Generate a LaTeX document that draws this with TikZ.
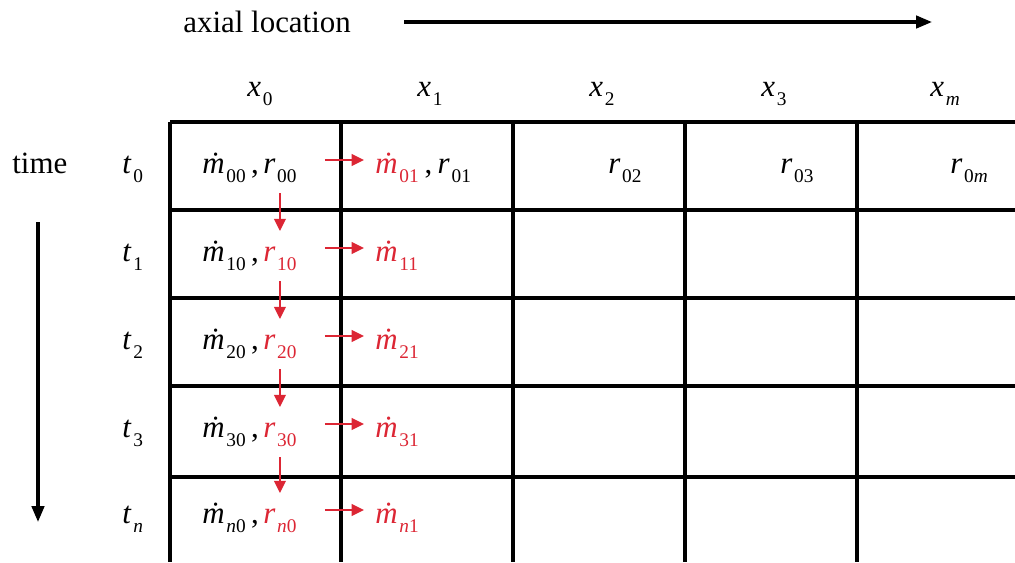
\documentclass[tikz,border=0pt]{standalone}
\usepackage{fontspec}
\setmainfont{Liberation Serif}
\usetikzlibrary{arrows.meta, positioning}

\definecolor{flowred}{RGB}{220,38,52}
\newcommand{\qsub}[2]{\textit{#1}\kern1pt\raisebox{-5.5pt}{\fontsize{11}{12}\selectfont #2}}
\newcommand{\mdot}{\textit{\.m}}

\begin{document}
\begin{tikzpicture}[x=0.02cm, y=-0.02cm,
    every node/.style={font=\fontsize{17.6}{20}\selectfont, inner sep=0pt},
    gridline/.style={line width=1.9pt},
    axisarrow/.style={line width=1.8pt, -{Triangle[length=9pt,width=7pt]}},
    flow/.style={flowred, line width=1.4pt, -{Triangle[length=7pt,width=6.5pt]}}]
            \useasboundingbox (0,0) rectangle (1015,562);

            % 1. Tengelyek: axial location, time
            \node[anchor=base west] (axial) at (183,32) {axial location};
            \coordinate (axial-end) at (932,22);
            \draw[axisarrow] ([shift={(53,-10)}]axial.base east) -- (axial-end);
            \node[anchor=base west] (time) at (12,173) {time};
            \coordinate (time-end) at (38,522);
            \draw[axisarrow] (38,222) -- (time-end);

            % 2. A rács kirajzolása
            \foreach \y in {122,210,298,386,477}
                \draw[gridline] (170,\y) -- (1015,\y);
            \foreach \x in {170,341,513,685,857}
                \draw[gridline] (\x,122) -- (\x,562);

            % 3. Oszlop- és sorfejlécek
            \foreach \c/\lab/\x in {0/0/247, 1/1/417, 2/2/589, 3/3/761, 4/\textit{m}/930}
                \node[anchor=base west] (x-\c) at (\x,96) {\qsub{x}{\lab}};
            \foreach \k/\lab/\b in {0/0/173, 1/1/261, 2/2/349, 3/3/437, 4/\textit{n}/523}
                \node[anchor=base west] (t-\k) at (122,\b) {\qsub{t}{\lab}};

            % 4. Mezők elhelyezése és elnevezése (m-sor-oszlop, r-sor-oszlop)
            \foreach \k/\lab/\b in {0/0/173, 1/1/261, 2/2/349, 3/3/437, 4/\textit{n}/523} {
                \ifnum\k=0 \def\rcol{black}\else\def\rcol{flowred}\fi
                \node[anchor=base west] (m-\k-0) at (202,\b) {\qsub{\mdot}{\lab0}\hspace{3pt},};
                \node[anchor=base west, text=\rcol] (r-\k-0) at (263,\b) {\qsub{r}{\lab0}};
                \node[anchor=base west, text=flowred] (m-\k-1) at (375,\b) {\qsub{\mdot}{\lab1}};
                \draw[flow] ([shift={(28,-13)}]r-\k-0.base east) -- ([shift={(-11,-13)}]m-\k-1.base west);
            }
            \node[base right=0pt of m-0-1] (r-0-1) {\hspace{3pt},\hspace{3pt}\qsub{r}{01}};
            \node[anchor=base west] (r-0-2) at (608,173) {\qsub{r}{02}};
            \node[anchor=base west] (r-0-3) at (780,173) {\qsub{r}{03}};
            \node[anchor=base west] (r-0-4) at (950,173) {\qsub{r}{0\textit{m}}};

            % 5. Lefelé mutató nyilak
            \foreach \k [evaluate=\k as \j using int(\k+1)] in {0,...,3}
                \draw[flow, shorten <=0.2cm, shorten >=0.3cm] (r-\k-0.south) -- (r-\k-0.south |- r-\j-0.north);
        \end{tikzpicture}
\end{document}
